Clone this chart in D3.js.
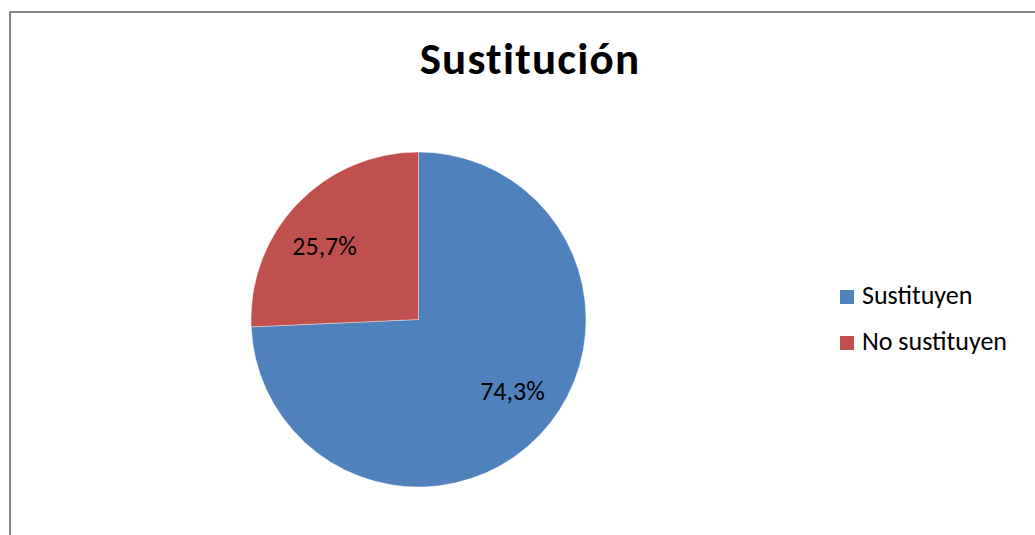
<!DOCTYPE html>
<html>
<head>
<meta charset="utf-8">
<script src="https://cdn.jsdelivr.net/npm/d3@7"></script>
<style>
  body { margin: 0; background: #fff; }
  text { font-family: Carlito, Calibri, "Open Sans", sans-serif; }
</style>
</head>
<body>
<div id="chart"></div>
<script>
var width = 1035, height = 535;

var categories = ["Sustituyen", "No sustituyen"];
var values = [74.3, 25.7];
var colors = ["#4F81BD", "#C0504D"];

var svg = d3.select("#chart")
  .append("svg")
  .attr("width", width)
  .attr("height", height);

// chart area border (runs off the right and bottom edges)
svg.append("rect")
  .attr("x", 10)
  .attr("y", 12)
  .attr("width", 1040)
  .attr("height", 540)
  .attr("fill", "none")
  .attr("stroke", "#868686")
  .attr("stroke-width", 2);

svg.append("text")
  .attr("x", 530)
  .attr("y", 74)
  .attr("text-anchor", "middle")
  .style("font-size", "45px")
  .style("font-weight", "bold")
  .style("letter-spacing", "1.2px")
  .text("Sustitución");

var radius = 167.5;
var g = svg.append("g")
  .attr("transform", "translate(418.5,319.5)");

var pie = d3.pie().sort(null).value(function(d) { return d; });
var arc = d3.arc().innerRadius(0).outerRadius(radius);

var slices = pie(values);

// labels sit on an ellipse inside the pie (wide text boxes push them sideways)
function labelPos(d) {
  var a = (d.startAngle + d.endAngle) / 2;
  return [Math.sin(a) * 130, -Math.cos(a) * 105];
}

g.selectAll("path")
  .data(slices)
  .enter().append("path")
  .attr("d", arc)
  .attr("fill", function(d, i) { return colors[i]; })
  .attr("stroke", "#fff")
  .attr("stroke-opacity", 0.5)
  .attr("stroke-width", 0.75);

g.selectAll("text.lbl")
  .data(slices)
  .enter().append("text")
  .attr("class", "lbl")
  .attr("transform", function(d) { return "translate(" + labelPos(d) + ")"; })
  .attr("text-anchor", "middle")
  .attr("dy", "0.32em")
  .style("font-size", "26px")
  .text(function(d) { return d3.format(".1f")(d.value).replace(".", ",") + "%"; });

var legend = svg.append("g")
  .attr("transform", "translate(840,290)");

var item = legend.selectAll("g")
  .data(categories)
  .enter().append("g")
  .attr("transform", function(d, i) { return "translate(0," + (i * 46) + ")"; });

item.append("rect")
  .attr("width", 14)
  .attr("height", 14)
  .attr("fill", function(d, i) { return colors[i]; });

item.append("text")
  .attr("x", 22)
  .attr("y", 14)
  .style("font-size", "26px")
  .text(function(d) { return d; });
</script>
</body>
</html>
